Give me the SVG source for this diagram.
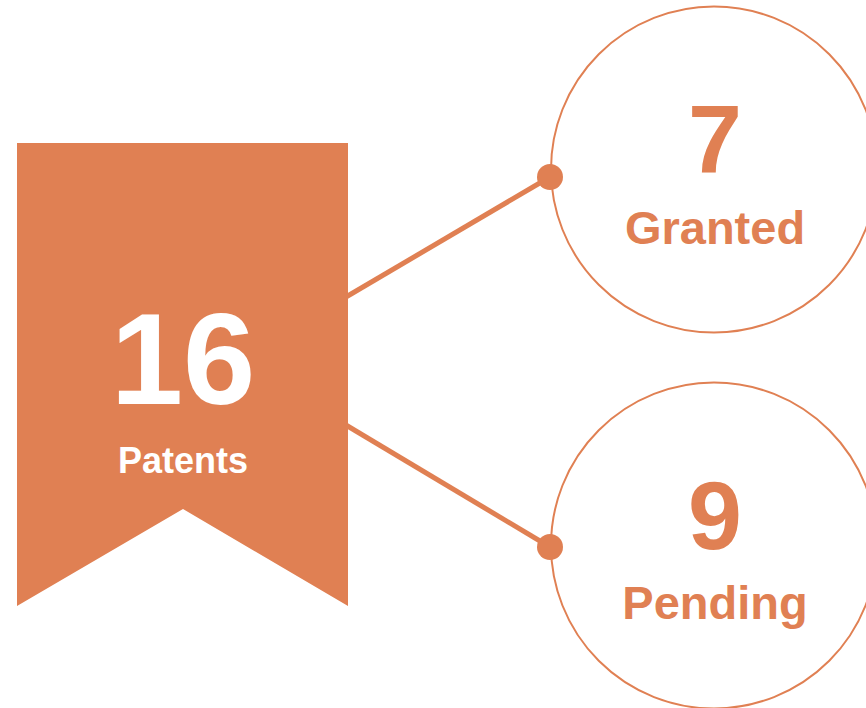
<svg xmlns="http://www.w3.org/2000/svg" width="866" height="708" viewBox="0 0 866 708">
<style>
.fill{fill:#E08053}
.ring{fill:none;stroke:#E08053;stroke-width:2}
.conn{stroke:#E08053;stroke-width:5;fill:none}
.dot{fill:#E08053}
text{font-family:"Liberation Sans",Arial,sans-serif;font-weight:bold;text-anchor:middle}
.wnum{fill:#fff;font-size:130px}
.wlab{fill:#fff;font-size:36px}
.onum{fill:#E08053;font-size:97px}
.olab{fill:#E08053;font-size:47px}
</style>
<rect width="866" height="708" fill="#fff"/>
<g id="connectors">
<line class="conn" x1="340" y1="300.5" x2="550" y2="177"/>
<line class="conn" x1="340" y1="421.5" x2="550" y2="547"/>
</g>
<g id="patents">
<polygon class="fill" points="17,143 348,143 348,606 183,509 17,606"/>
<text class="wnum" x="183" y="404">16</text>
<text class="wlab" x="183" y="473">Patents</text>
</g>
<g id="granted">
<circle class="ring" cx="714" cy="169.5" r="163"/>
<circle class="dot" cx="550" cy="177" r="13"/>
<text class="onum" x="715" y="173">7</text>
<text class="olab" x="715" y="244">Granted</text>
</g>
<g id="pending">
<circle class="ring" cx="714" cy="545.5" r="163"/>
<circle class="dot" cx="550" cy="547" r="13"/>
<text class="onum" x="715" y="549">9</text>
<text class="olab" x="715" y="619">Pending</text>
</g>
</svg>
